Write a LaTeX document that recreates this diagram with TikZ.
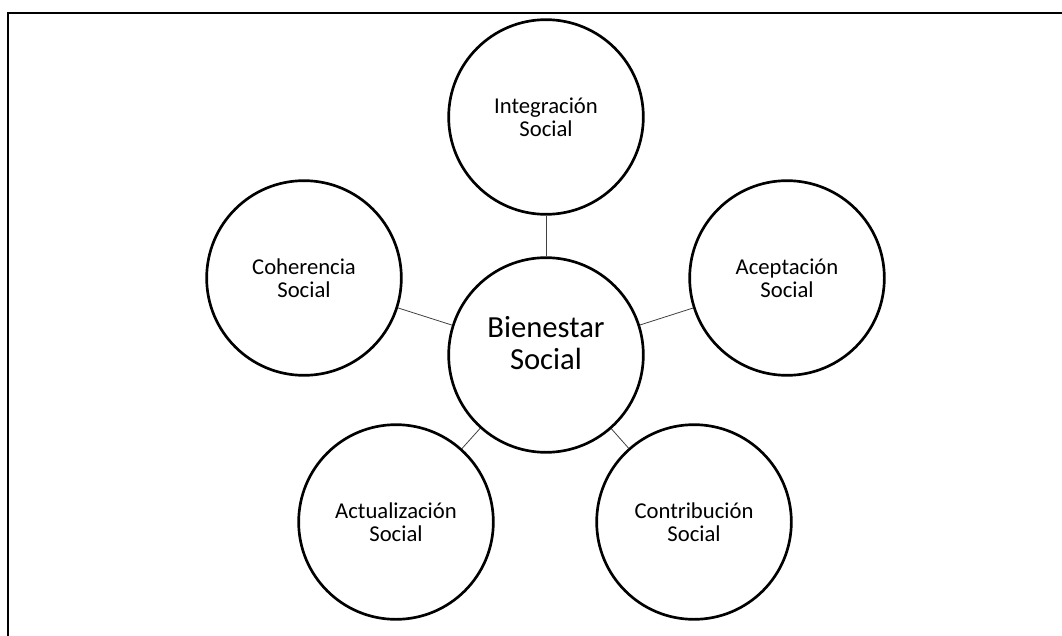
\documentclass[tikz,border=0pt]{standalone}
\usepackage{fontspec}
\setmainfont{Carlito}
\usepackage{tikz}

\begin{document}
\begin{tikzpicture}[x=0.75pt,y=-0.75pt,
    part/.style={circle, draw, line width=2pt, minimum size=146pt, inner sep=0pt,
      align=center, font=\fontsize{17}{17.5}\selectfont},
    core/.style={part, font=\fontsize{23}{24}\selectfont},
    link/.style={draw=black!75, line width=0.6pt}]
    \useasboundingbox (0,0) rectangle (1062,635);
    % frame
    \draw[line width=1.6pt] (8,640) -- (8,13) -- (1070,13);
    \node[core] (bs) at (546,355) {};
    \node[font=\fontsize{23}{24}\selectfont, align=center] (bst) at (546,343) {Bienestar\\Social};
    \node[part] (is) at (546,117) {Integración\\Social};
    \node[part] (cs) at (304,278) {Coherencia\\Social};
    \node[part] (as) at (787,278) {Aceptación\\Social};
    \node[part] (us) at (396,522) {Actualización\\Social};
    \node[part] (ts) at (694,522) {Contribución\\Social};
    \draw[link] (bs) -- (is);
    \draw[link] (bs) -- (cs);
    \draw[link] (bs) -- (as);
    \draw[link] (bs) -- (us);
    \draw[link] (bs) -- (ts);
\end{tikzpicture}
\end{document}
